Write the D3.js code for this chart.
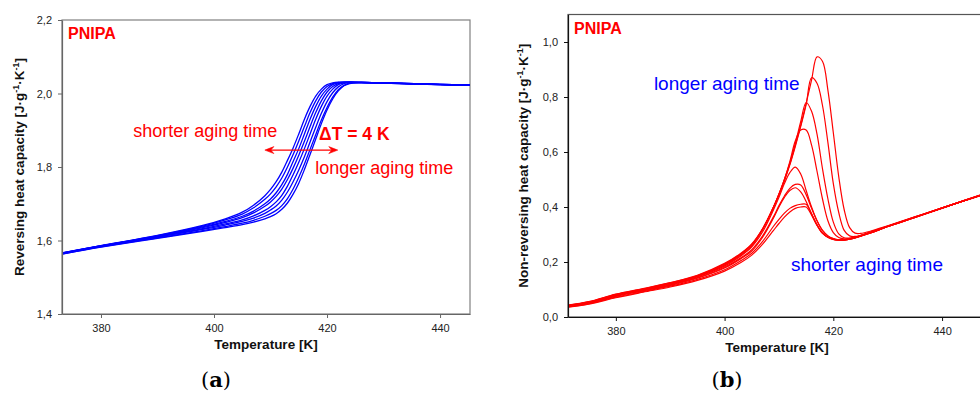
<!DOCTYPE html>
<html>
<head>
<meta charset="utf-8">
<script src="https://cdn.jsdelivr.net/npm/d3@7"></script>
<style>
  body { margin: 0; background: #fff; }
  svg { display: block; font-family: "Liberation Sans", Arial, sans-serif; }
</style>
</head>
<body>
<div id="chart"></div>
<script>
// ---- data: panel (a) reversing heat capacity, 8 aging times ----
var tempRev = [373, 380, 390, 398, 402, 405, 407, 409, 410, 411, 412, 413, 414, 415, 416, 417,
               418, 419, 420, 421, 422, 423, 424, 426, 430, 440, 446];
var rev1 = [1.566, 1.586, 1.614, 1.641, 1.659, 1.677, 1.696, 1.722, 1.739, 1.760, 1.786, 1.818, 1.852, 1.890, 1.930, 1.965,
            1.993, 2.012, 2.024, 2.029, 2.031, 2.031, 2.031, 2.030, 2.029, 2.025, 2.023];
var rev2 = [1.566, 1.586, 1.613, 1.639, 1.656, 1.672, 1.689, 1.712, 1.727, 1.746, 1.770, 1.800, 1.834, 1.871, 1.910, 1.948,
            1.980, 2.004, 2.019, 2.027, 2.030, 2.031, 2.031, 2.030, 2.029, 2.025, 2.023];
var rev3 = [1.565, 1.585, 1.612, 1.637, 1.652, 1.666, 1.680, 1.700, 1.713, 1.730, 1.752, 1.780, 1.815, 1.850, 1.890, 1.930,
            1.965, 1.993, 2.012, 2.024, 2.029, 2.031, 2.031, 2.030, 2.029, 2.025, 2.023];
var rev4 = [1.565, 1.585, 1.611, 1.635, 1.649, 1.662, 1.675, 1.693, 1.705, 1.720, 1.740, 1.766, 1.797, 1.832, 1.870, 1.910,
            1.948, 1.980, 2.004, 2.019, 2.027, 2.030, 2.031, 2.030, 2.029, 2.025, 2.023];
var rev5 = [1.564, 1.584, 1.610, 1.632, 1.645, 1.656, 1.667, 1.682, 1.692, 1.705, 1.723, 1.748, 1.779, 1.813, 1.850, 1.890,
            1.930, 1.965, 1.993, 2.012, 2.024, 2.029, 2.031, 2.030, 2.029, 2.024, 2.022];
var rev6 = [1.564, 1.584, 1.609, 1.630, 1.642, 1.652, 1.661, 1.674, 1.683, 1.694, 1.710, 1.732, 1.760, 1.792, 1.828, 1.868,
            1.908, 1.946, 1.978, 2.002, 2.018, 2.027, 2.030, 2.030, 2.029, 2.024, 2.022];
var rev7 = [1.563, 1.583, 1.607, 1.627, 1.638, 1.647, 1.655, 1.666, 1.673, 1.682, 1.695, 1.714, 1.740, 1.772, 1.808, 1.848,
            1.888, 1.928, 1.962, 1.990, 2.010, 2.022, 2.028, 2.029, 2.028, 2.024, 2.022];
var rev8 = [1.563, 1.582, 1.606, 1.625, 1.635, 1.643, 1.650, 1.659, 1.665, 1.673, 1.685, 1.702, 1.726, 1.756, 1.793, 1.834,
            1.876, 1.918, 1.955, 1.985, 2.007, 2.021, 2.027, 2.029, 2.028, 2.024, 2.022];
var revSeries = [rev1, rev2, rev3, rev4, rev5, rev6, rev7, rev8];

// ---- data: panel (b) non-reversing heat capacity, 9 aging times ----
var tempNon = [371, 375, 380, 385, 390, 395, 400, 403, 405, 407, 409, 410, 411, 412, 413, 414,
               415, 416, 417, 418, 419, 420, 421, 422, 423, 424, 425, 427, 430, 435, 440, 449];
var nonA = [0.043, 0.056, 0.083, 0.103, 0.125, 0.152, 0.195, 0.232, 0.266, 0.322, 0.400, 0.447, 0.497, 0.556, 0.624, 0.697,
            0.777, 0.862, 0.946, 0.930, 0.825, 0.67, 0.51, 0.39, 0.325, 0.305, 0.304, 0.313, 0.332, 0.364, 0.397, 0.456];
var nonB = [0.042, 0.055, 0.082, 0.102, 0.124, 0.151, 0.193, 0.230, 0.264, 0.320, 0.398, 0.445, 0.495, 0.553, 0.620, 0.692,
            0.772, 0.870, 0.850, 0.770, 0.635, 0.485, 0.38, 0.315, 0.295, 0.293, 0.297, 0.31, 0.331, 0.364, 0.397, 0.456];
var nonC = [0.041, 0.054, 0.081, 0.101, 0.122, 0.149, 0.19, 0.228, 0.262, 0.320, 0.400, 0.447, 0.500, 0.560, 0.630, 0.710,
            0.780, 0.748, 0.665, 0.540, 0.430, 0.345, 0.302, 0.288, 0.287, 0.291, 0.296, 0.309, 0.330, 0.363, 0.397, 0.456];
var nonD = [0.040, 0.053, 0.080, 0.100, 0.121, 0.148, 0.188, 0.225, 0.258, 0.318, 0.40, 0.445, 0.50, 0.565, 0.64, 0.68,
            0.68, 0.625, 0.53, 0.43, 0.35, 0.307, 0.289, 0.284, 0.286, 0.29, 0.295, 0.308, 0.329, 0.363, 0.396, 0.455];
var nonE = [0.040, 0.052, 0.078, 0.098, 0.119, 0.146, 0.185, 0.222, 0.255, 0.31, 0.39, 0.435, 0.485, 0.525, 0.545, 0.52,
            0.46, 0.40, 0.35, 0.315, 0.295, 0.285, 0.281, 0.281, 0.284, 0.289, 0.295, 0.308, 0.329, 0.362, 0.396, 0.455];
var nonF = [0.039, 0.051, 0.077, 0.097, 0.117, 0.143, 0.181, 0.215, 0.245, 0.295, 0.365, 0.405, 0.44, 0.468, 0.482, 0.48,
            0.445, 0.395, 0.35, 0.315, 0.295, 0.285, 0.281, 0.281, 0.284, 0.289, 0.295, 0.308, 0.329, 0.362, 0.396, 0.455];
var nonG = [0.038, 0.050, 0.075, 0.095, 0.115, 0.141, 0.178, 0.212, 0.24, 0.29, 0.36, 0.40, 0.435, 0.46, 0.47, 0.455,
            0.42, 0.375, 0.335, 0.305, 0.29, 0.282, 0.279, 0.28, 0.283, 0.288, 0.294, 0.307, 0.329, 0.362, 0.396, 0.455];
var nonH = [0.036, 0.048, 0.072, 0.092, 0.112, 0.137, 0.172, 0.205, 0.232, 0.275, 0.33, 0.355, 0.378, 0.395, 0.405, 0.41,
            0.41, 0.375, 0.335, 0.305, 0.29, 0.282, 0.279, 0.279, 0.283, 0.288, 0.294, 0.307, 0.329, 0.362, 0.396, 0.455];
var nonI = [0.035, 0.047, 0.070, 0.090, 0.109, 0.133, 0.167, 0.198, 0.225, 0.265, 0.315, 0.34, 0.363, 0.382, 0.395, 0.40,
            0.40, 0.37, 0.333, 0.305, 0.29, 0.282, 0.279, 0.279, 0.283, 0.288, 0.294, 0.307, 0.329, 0.362, 0.396, 0.455];
var nonSeries = [nonA, nonB, nonC, nonD, nonE, nonF, nonG, nonH, nonI];

// ---- ticks ----
var xTicks = [380, 400, 420, 440];
var yTicksRev = [1.4, 1.6, 1.8, 2.0, 2.2];
var yTicksNon = [0.0, 0.2, 0.4, 0.6, 0.8, 1.0];

var W = 980, H = 395;
var svg = d3.select("#chart").append("svg").attr("width", W).attr("height", H);

var comma = function(d) { return d3.format(".1f")(d).replace(".", ","); };

function drawPanel(p) {
  var x = d3.scaleLinear().domain(p.xDomain).range([p.left, p.right]);
  var y = d3.scaleLinear().domain(p.yDomain).range([p.bottom, p.top]);
  var g = svg.append("g");

  g.append("clipPath").attr("id", p.id + "clip")
    .append("rect")
    .attr("x", p.left).attr("y", p.top)
    .attr("width", p.right - p.left).attr("height", p.bottom - p.top);

  // frame
  g.append("rect")
    .attr("x", p.left).attr("y", p.top)
    .attr("width", p.right - p.left).attr("height", p.bottom - p.top)
    .attr("fill", "none").attr("stroke", p.frameColor).attr("stroke-width", 1.2);

  var line = d3.line()
    .x(function(d) { return x(d[0]); })
    .y(function(d) { return y(d[1]); })
    .curve(d3.curveCatmullRom.alpha(0.5));

  g.append("g").attr("clip-path", "url(#" + p.id + "clip)")
    .selectAll("path")
    .data(p.series)
    .enter().append("path")
      .attr("fill", "none")
      .attr("stroke", p.lineColor)
      .attr("stroke-width", p.lineWidth)
      .attr("d", function(s) { return line(s.map(function(v, i) { return [p.temps[i], v]; })); });

  var xa = g.append("g").attr("transform", "translate(0," + p.bottom + ")")
    .call(d3.axisBottom(x).tickValues(xTicks).tickSize(4).tickSizeOuter(0).tickPadding(6).tickFormat(d3.format("d")));
  var ya = g.append("g").attr("transform", "translate(" + p.left + ",0)")
    .call(d3.axisLeft(y).tickValues(p.yTicks).tickSize(4).tickSizeOuter(0).tickPadding(6).tickFormat(comma));
  [xa, ya].forEach(function(a) {
    a.select(".domain").attr("stroke", p.axisColor).attr("stroke-width", 1.2);
    a.selectAll(".tick line").attr("stroke", p.axisColor);
    a.selectAll(".tick text").attr("fill", "#222")
      .style("font-size", "11px").style("font-family", "'Liberation Sans', Arial, sans-serif");
  });

  // axis titles
  g.append("text")
    .attr("x", (p.left + Math.min(p.right, W)) / 2 + p.xTitleShift).attr("y", p.bottom + 35)
    .attr("text-anchor", "middle").attr("font-weight", "bold").attr("font-size", 13.5)
    .attr("fill", "#111").text("Temperature [K]");

  var yt = g.append("text")
    .attr("transform", "translate(" + p.yTitleX + "," + ((p.top + p.bottom) / 2) + ") rotate(-90)")
    .attr("text-anchor", "middle").attr("font-weight", "bold").attr("font-size", 13.5)
    .attr("fill", "#111");
  yt.append("tspan").text(p.yTitle + " [J·g");
  yt.append("tspan").attr("font-size", 9).attr("dy", -5).text("-1");
  yt.append("tspan").attr("dy", 5).text("·K");
  yt.append("tspan").attr("font-size", 9).attr("dy", -5).text("-1");
  yt.append("tspan").attr("dy", 5).text("]");

  // panel letter
  var lt = g.append("text")
    .attr("x", p.letterX).attr("y", 387)
    .attr("text-anchor", "middle")
    .style("font-size", "21px")
    .style("font-family", "'DejaVu Serif', 'Liberation Serif', serif").attr("fill", "#000");
  lt.append("tspan").text("(");
  lt.append("tspan").attr("font-weight", "bold").text(p.letter);
  lt.append("tspan").text(")");

  // PNIPA tag
  g.append("text")
    .attr("x", p.left + 6).attr("y", p.top + 19)
    .attr("font-weight", "bold").attr("font-size", 16).attr("fill", "#ff0000")
    .text("PNIPA");

  return {x: x, y: y, g: g};
}

// ---- panel (a) ----
var a = drawPanel({
  id: "a", left: 62, right: 470, top: 20, bottom: 314,
  xDomain: [373.1, 445.3], yDomain: [1.4, 2.2],
  temps: tempRev, series: revSeries, yTicks: yTicksRev,
  lineColor: "#0000ff", lineWidth: 1.3,
  frameColor: "#808080", axisColor: "#666",
  yTitle: "Reversing heat capacity", yTitleX: 24, xTitleShift: 0,
  letter: "a", letterX: 216
});

a.g.append("text").attr("x", a.x(385.7)).attr("y", a.y(1.882))
  .attr("font-size", 18).attr("fill", "#ff0000").text("shorter aging time");
a.g.append("text").attr("x", a.x(418.6)).attr("y", a.y(1.873))
  .attr("font-size", 17.5).attr("font-weight", "bold").attr("fill", "#ff0000").text("ΔT = 4 K");
a.g.append("text").attr("x", a.x(417.9)).attr("y", a.y(1.781))
  .attr("font-size", 18).attr("fill", "#ff0000").text("longer aging time");

// double arrow
var ax0 = a.x(409.0), ax1 = a.x(421.9), ay = a.y(1.846);
a.g.append("line").attr("x1", ax0 + 2).attr("x2", ax1 - 2).attr("y1", ay).attr("y2", ay)
  .attr("stroke", "#ff0000").attr("stroke-width", 1.4);
a.g.append("path")
  .attr("d", "M" + ax0 + "," + ay + "l9,-3.5l-3,3.5l3,3.5z" +
             "M" + ax1 + "," + ay + "l-9,-3.5l3,3.5l-3,3.5z")
  .attr("fill", "#ff0000").attr("stroke", "#ff0000").attr("stroke-width", 0.6);

// ---- panel (b) ----
var b = drawPanel({
  id: "b", left: 568, right: 991, top: 14.5, bottom: 317,
  xDomain: [371.2, 449], yDomain: [0, 1.1],
  temps: tempNon, series: nonSeries, yTicks: yTicksNon,
  lineColor: "#ff0000", lineWidth: 1.2,
  frameColor: "#555", axisColor: "#111",
  yTitle: "Non-reversing heat capacity", yTitleX: 528, xTitleShift: 3,
  letter: "b", letterX: 727
});

b.g.append("text").attr("x", b.x(387.0)).attr("y", b.y(0.824))
  .attr("font-size", 19).attr("fill", "#0000ff").text("longer aging time");
b.g.append("text").attr("x", b.x(412.2)).attr("y", b.y(0.167))
  .attr("font-size", 19).attr("fill", "#0000ff").text("shorter aging time");
</script>
</body>
</html>
